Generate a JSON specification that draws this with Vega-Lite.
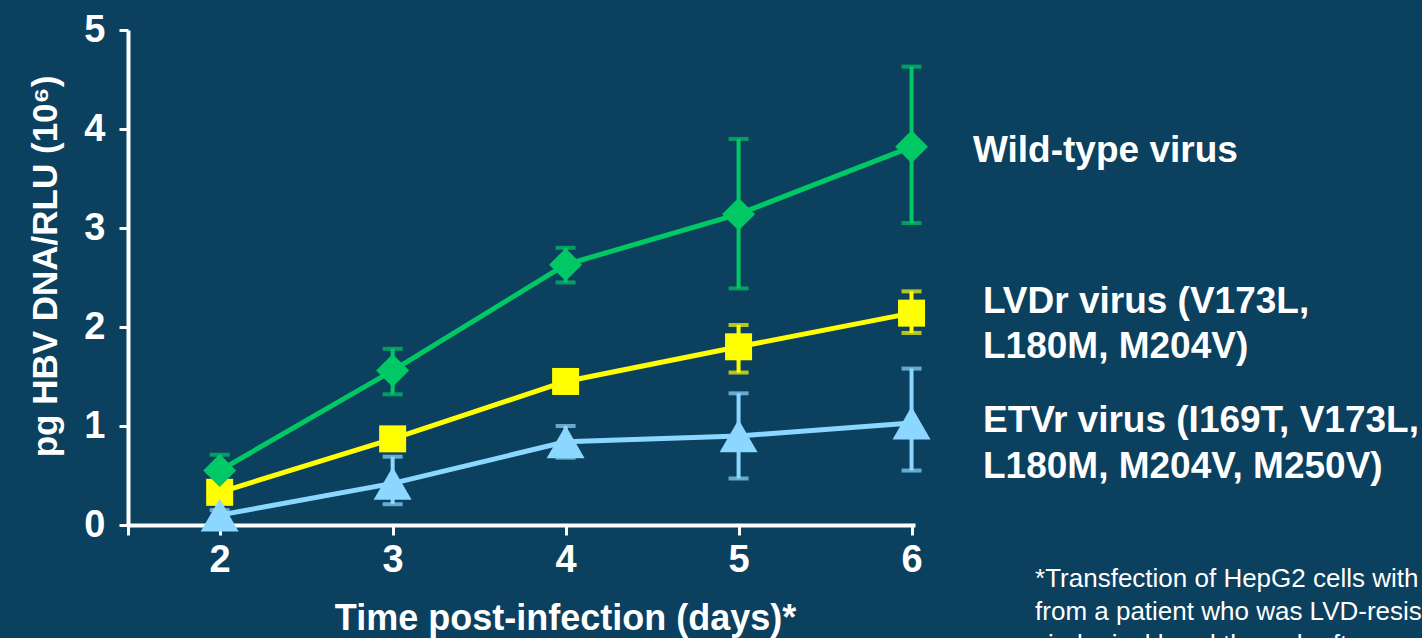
{
  "$schema": "https://vega.github.io/schema/vega-lite/v6.json",
  "width": 787,
  "height": 495,
  "autosize": {"type": "none"},
  "padding": {"left": 128, "top": 30, "right": 507, "bottom": 113},
  "background": "#0B405E",
  "config": {"view": {"stroke": null}, "font": "Liberation Sans"},
  "datasets": {
    "series": [
      {"s": "LVDr", "day": 2, "value": 0.33, "lo": 0.28, "hi": 0.38},
      {"s": "LVDr", "day": 3, "value": 0.87, "lo": 0.82, "hi": 0.92},
      {"s": "LVDr", "day": 4, "value": 1.45, "lo": 1.40, "hi": 1.51},
      {"s": "LVDr", "day": 5, "value": 1.80, "lo": 1.54, "hi": 2.02},
      {"s": "LVDr", "day": 6, "value": 2.14, "lo": 1.94, "hi": 2.36},
      {"s": "Wild", "day": 2, "value": 0.55, "lo": 0.40, "hi": 0.71},
      {"s": "Wild", "day": 3, "value": 1.56, "lo": 1.32, "hi": 1.78},
      {"s": "Wild", "day": 4, "value": 2.63, "lo": 2.45, "hi": 2.80},
      {"s": "Wild", "day": 5, "value": 3.14, "lo": 2.39, "hi": 3.90},
      {"s": "Wild", "day": 6, "value": 3.82, "lo": 3.05, "hi": 4.63},
      {"s": "ETVr", "day": 2, "value": 0.10, "lo": 0.05, "hi": 0.15},
      {"s": "ETVr", "day": 3, "value": 0.42, "lo": 0.21, "hi": 0.69},
      {"s": "ETVr", "day": 4, "value": 0.84, "lo": 0.68, "hi": 1.00},
      {"s": "ETVr", "day": 5, "value": 0.90, "lo": 0.47, "hi": 1.33},
      {"s": "ETVr", "day": 6, "value": 1.03, "lo": 0.55, "hi": 1.58}
    ],
    "legend": [
      {"day": 6.355, "value": 3.667, "text": "Wild-type virus"},
      {"day": 6.413, "value": 2.141, "text": "LVDr virus (V173L,"},
      {"day": 6.413, "value": 1.687, "text": "L180M, M204V)"},
      {"day": 6.413, "value": 0.939, "text": "ETVr virus (I169T, V173L,"},
      {"day": 6.413, "value": 0.475, "text": "L180M, M204V, M250V)"}
    ],
    "foot": [
      {"day": 6.714, "value": -0.626, "text": "*Transfection of HepG2 cells with"},
      {"day": 6.714, "value": -0.96, "text": "from a patient who was LVD-resis"},
      {"day": 6.714, "value": -1.293, "text": "virological breakthrough after"}
    ]
  },
  "data": {"name": "series"},
  "encoding": {
    "x": {
      "field": "day", "type": "quantitative",
      "scale": {"domain": [1.47, 6.02], "nice": false, "zero": false},
      "axis": {
        "values": [1.47, 2, 3, 4, 5, 6],
        "labelExpr": "datum.value < 1.9 ? '' : datum.label",
        "grid": false,
        "domainColor": "white", "domainWidth": 4,
        "tickColor": "white", "tickWidth": 3, "tickSize": 10,
        "labelColor": "white", "labelFontSize": 38, "labelFontWeight": "bold",
        "labelPadding": 6, "labelFlush": false, "labelOverlap": false,
        "title": "Time post-infection (days)*",
        "titleColor": "white", "titleFontSize": 36, "titleFontWeight": "bold",
        "titleX": 437, "titleY": 104, "titleBaseline": "alphabetic", "titleAlign": "center"
      }
    },
    "y": {
      "field": "value", "type": "quantitative",
      "scale": {"domain": [0, 5], "nice": false},
      "axis": {
        "values": [0, 1, 2, 3, 4, 5],
        "grid": false,
        "domainColor": "white", "domainWidth": 4,
        "tickColor": "white", "tickWidth": 3, "tickSize": 9,
        "labelColor": "white", "labelFontSize": 38, "labelFontWeight": "bold",
        "labelPadding": 14, "labelFlush": false, "labelOverlap": false,
        "title": "pg HBV DNA/RLU (10⁶)",
        "titleColor": "white", "titleFontSize": 35, "titleFontWeight": "bold",
        "titleAngle": -90, "titleX": -83, "titleY": 236,
        "titleBaseline": "middle", "titleAlign": "center"
      }
    }
  },
  "layer": [
    {
      "mark": {"type": "rule", "strokeWidth": 4},
      "encoding": {
        "y": {"field": "lo", "type": "quantitative"},
        "y2": {"field": "hi"},
        "color": {"field": "s", "type": "nominal", "legend": null,
          "scale": {"domain": ["LVDr", "Wild", "ETVr"], "range": ["#FFFF00", "#00C864", "#8CD7FF"]}}
      }
    },
    {
      "mark": {"type": "tick", "orient": "horizontal", "size": 20, "thickness": 4},
      "encoding": {
        "y": {"field": "lo", "type": "quantitative"},
        "color": {"field": "s", "type": "nominal", "legend": null}
      }
    },
    {
      "mark": {"type": "tick", "orient": "horizontal", "size": 20, "thickness": 4},
      "encoding": {
        "y": {"field": "hi", "type": "quantitative"},
        "color": {"field": "s", "type": "nominal", "legend": null}
      }
    },
    {
      "mark": {"type": "line", "strokeWidth": 5},
      "encoding": {
        "color": {"field": "s", "type": "nominal", "legend": null}
      }
    },
    {
      "mark": {"type": "point", "filled": true, "opacity": 1},
      "encoding": {
        "color": {"field": "s", "type": "nominal", "legend": null},
        "shape": {"field": "s", "type": "nominal", "legend": null,
          "scale": {"domain": ["LVDr", "Wild", "ETVr"], "range": ["square", "diamond", "triangle-up"]}},
        "size": {"field": "s", "type": "nominal", "legend": null,
          "scale": {"domain": ["LVDr", "Wild", "ETVr"], "range": [729, 1444, 1369]}}
      }
    },
    {
      "data": {"name": "legend"},
      "mark": {"type": "text", "align": "left", "baseline": "alphabetic", "fontSize": 37, "fontWeight": "bold", "color": "white"},
      "encoding": {"text": {"field": "text"}}
    },
    {
      "data": {"name": "foot"},
      "mark": {"type": "text", "align": "left", "baseline": "alphabetic", "fontSize": 26, "color": "white"},
      "encoding": {"text": {"field": "text"}}
    }
  ]
}
